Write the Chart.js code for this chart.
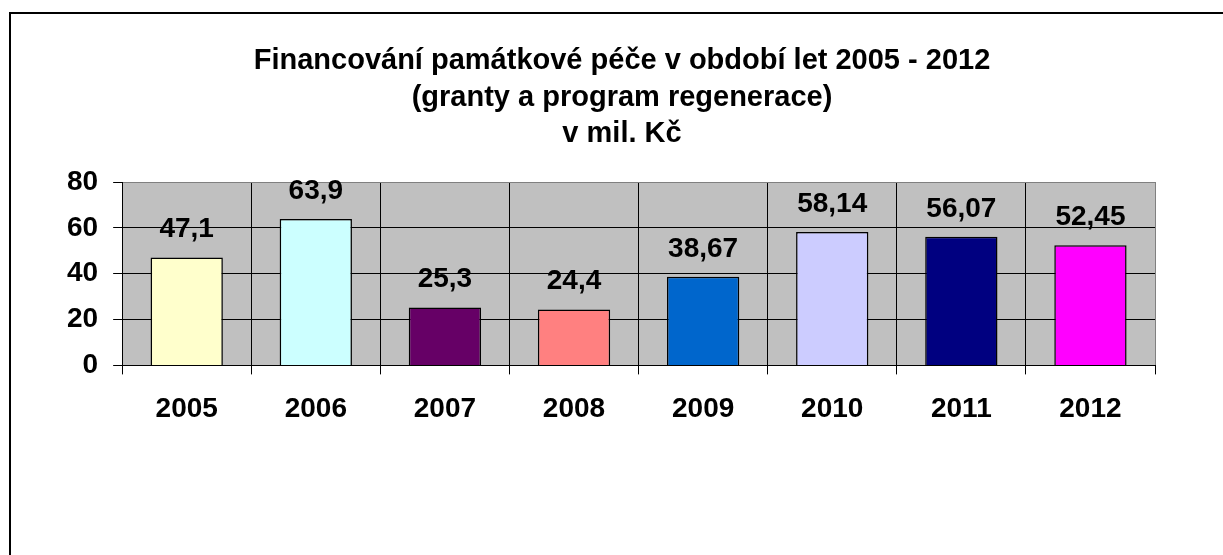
<!DOCTYPE html>
<html>
<head>
<meta charset="utf-8">
<script src="https://cdn.jsdelivr.net/npm/chart.js@4"></script>
<style>
  html, body { margin: 0; padding: 0; background: #fff; }
  #wrap { width: 1223px; height: 555px; position: relative; }
</style>
</head>
<body>
<div id="wrap"><canvas id="chart"></canvas></div>
<script>
const years = ['2005', '2006', '2007', '2008', '2009', '2010', '2011', '2012'];
const amounts = [47.1, 63.9, 25.3, 24.4, 38.67, 58.14, 56.07, 52.45];
const barColors = ['#FFFFCC', '#CCFFFF', '#660066', '#FF8080', '#0066CC', '#CCCCFF', '#000080', '#FF00FF'];
const titleLines = [
  'Financování památkové péče v období let 2005 - 2012',
  '(granty a program regenerace)',
  'v mil. Kč'
];

const font = 'Liberation Sans, Arial, sans-serif';

// white page, clipped frame and grey plot background
const backdrop = {
  id: 'backdrop',
  beforeDraw(chart) {
    const c = chart.ctx;
    const a = chart.chartArea;
    c.save();
    c.fillStyle = '#fff';
    c.fillRect(0, 0, chart.width, chart.height);
    c.fillStyle = '#000';
    c.fillRect(9, 12, 2, chart.height);
    c.fillRect(9, 12, chart.width, 2);
    c.fillStyle = '#C0C0C0';
    c.fillRect(a.left, a.top, a.right - a.left, a.bottom - a.top);
    c.restore();
  }
};

// title block, centred a little right of the page middle like the original
const chartTitle = {
  id: 'chartTitle',
  afterDraw(chart) {
    const c = chart.ctx;
    c.save();
    c.font = 'bold 29px ' + font;
    c.fillStyle = '#000';
    c.textAlign = 'center';
    c.textBaseline = 'middle';
    titleLines.forEach((line, i) => {
      c.fillText(line, 622, 61 + i * 36.5);
    });
    c.restore();
  }
};

// value labels above the bars
const valueLabels = {
  id: 'valueLabels',
  afterDatasetsDraw(chart) {
    const c = chart.ctx;
    const meta = chart.getDatasetMeta(0);
    c.save();
    c.font = 'bold 28px ' + font;
    c.fillStyle = '#000';
    c.textAlign = 'center';
    c.textBaseline = 'alphabetic';
    meta.data.forEach((bar, i) => {
      c.fillText(String(amounts[i]).replace('.', ','), bar.x, bar.y - 20);
    });
    c.restore();
  }
};

const ctx = document.getElementById('chart').getContext('2d');
const myChart = new Chart(ctx, {
  type: 'bar',
  data: {
    labels: years,
    datasets: [{
      data: amounts,
      backgroundColor: barColors,
      borderColor: '#000',
      borderWidth: 1.5,
      barPercentage: 0.56,
      categoryPercentage: 1
    }]
  },
  options: {
    responsive: true,
    maintainAspectRatio: false,
    animation: false,
    layout: {
      padding: { left: 52, right: 68, top: 182, bottom: 111 }
    },
    plugins: {
      legend: { display: false },
      tooltip: { enabled: false },
      title: { display: false }
    },
    scales: {
      x: {
        grid: {
          color: (c) => c.tick ? '#000' : '#808080',
          lineWidth: 1,
          tickColor: '#000',
          tickLength: 9
        },
        border: { color: '#000', width: 1 },
        ticks: {
          color: '#000',
          padding: 18,
          font: { family: font, size: 28, weight: 'bold' }
        }
      },
      y: {
        min: 0,
        max: 80,
        grid: {
          color: (c) => (c.tick && c.tick.value === 80) ? '#808080' : '#000',
          lineWidth: 1,
          tickColor: '#000',
          tickLength: 9
        },
        border: { color: '#000', width: 1 },
        ticks: {
          stepSize: 20,
          color: '#000',
          padding: 15,
          font: { family: font, size: 28, weight: 'bold' }
        }
      }
    }
  },
  plugins: [backdrop, chartTitle, valueLabels]
});
</script>
</body>
</html>
